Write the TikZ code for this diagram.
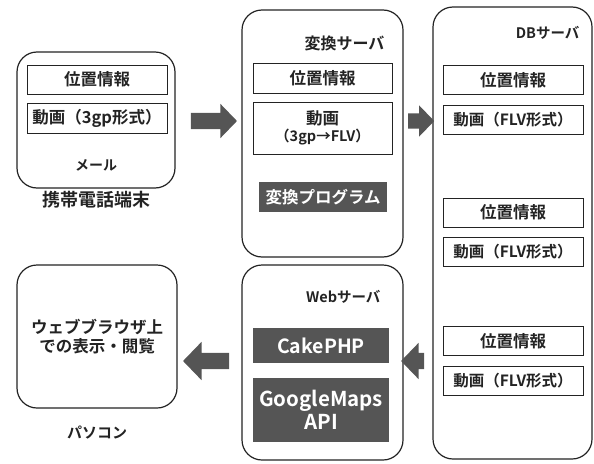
\documentclass[tikz,border=0pt]{standalone}
\usepackage{fontspec}
\setmainfont{Noto Sans CJK JP}[BoldFont={* Bold}]
\usetikzlibrary{shapes.arrows}
\definecolor{boxgray}{RGB}{85,85,85}
\definecolor{inkgray}{RGB}{35,35,35}
\newcommand{\fsz}[1]{\bfseries\fontsize{#1}{#1}\selectfont}
\begin{document}
\begin{tikzpicture}[x=1pt,y=-1pt,font=\fsz{16.5},text=inkgray,
  panel/.style={draw=inkgray,line width=1.2pt,rounded corners=20pt,inner sep=0pt},
  field/.style={draw=inkgray,line width=1pt,inner sep=0pt,minimum width=140,minimum height=29},
  darkbox/.style={fill=boxgray,text=white,inner sep=0pt,align=center},
  bigarrow/.style={single arrow,fill=boxgray,inner xsep=0pt,inner ysep=8pt,
    single arrow head extend=9pt,single arrow tip angle=92}]
  \useasboundingbox (0,0) rectangle (594,463);
  % mobile phone
  \node[panel,minimum width=158,minimum height=136] (phone) at (96,120) {};
  \node[field] (phonepos) at (97,79.5) {位置情報};
  \node[field,minimum height=30] (phonevid) at (97,118) {動画（3gp形式）};
  \node[font=\fsz{14}] (mail) at (96,165) {メール};
  \node[font=\fsz{18}] (phonelbl) at (96,200) {携帯電話端末};
  % conversion server
  \node[panel,minimum width=161,minimum height=247] (conv) at (322.5,133.5) {};
  \node[anchor=east,font=\fsz{16}] (convlbl) at (388,43) {変換サーバ};
  \node[field,minimum width=139,minimum height=30] (convpos) at (322.5,78) {位置情報};
  \node[field,minimum width=139,minimum height=52,align=center] (convvid) at (322.5,128)
    {動画\\[1pt]{\fsz{14.5}（3gp→FLV）}};
  \node[darkbox,minimum width=128,minimum height=30] (convprog) at (323,197) {変換プログラム};
  % database server
  \node[panel,minimum width=159,minimum height=452] (db) at (512.5,233) {};
  \node[anchor=east,font=\fsz{14.5}] (dblbl) at (583,33) {DBサーバ};
  \foreach \i/\y in {1/80,2/212.5,3/341}{
    \node[field] (dbpos\i) at (513,\y) {位置情報};
    \node[field,font=\fsz{15.5}] (dbvid\i) at (513,\y+39.5) {動画（FLV形式）};
  }
  % PC
  \node[panel,minimum width=160,minimum height=143,align=center] (pc) at (97,336.5)
    {ウェブブラウザ上\\[2pt]での表示・閲覧};
  \node[font=\fsz{15}] (pclbl) at (97,433) {パソコン};
  % web server
  \node[panel,minimum width=161,minimum height=195] (web) at (322.5,362.5) {};
  \node[anchor=east,font=\fsz{14.5}] (weblbl) at (384,297) {Webサーバ};
  \node[darkbox,minimum width=136,minimum height=35,font=\fsz{19.5}] (cake) at (321,345.5) {CakePHP};
  \node[darkbox,minimum width=136,minimum height=64,font=\fsz{20.5}] (gmaps) at (321,410)
    {GoogleMaps\\[3pt]API};
  % flow arrows
  \node[bigarrow,minimum height=46] (a1) at (210,121) {};
  \node[bigarrow,minimum height=26,inner ysep=7.5pt,single arrow head extend=8pt] (a2) at (417.5,121) {};
  \node[bigarrow,minimum height=23,single arrow head extend=10pt,shape border rotate=180] (a3) at (416.5,361) {};
  \node[bigarrow,minimum height=46,single arrow head extend=11pt,shape border rotate=180] (a4) at (210,361) {};
\end{tikzpicture}
\end{document}
